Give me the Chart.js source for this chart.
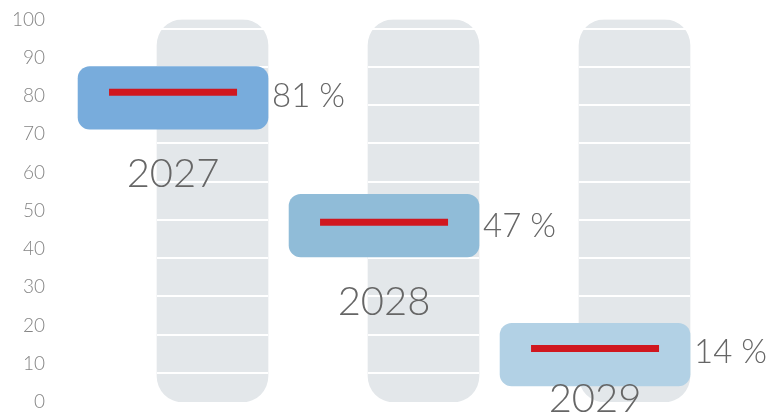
<!DOCTYPE html>
<html lang="en">
  <head>
    <meta charset="UTF-8" />
    <title>Forecast gauges</title>
    <style>
      html,
      body {
        margin: 0;
        padding: 0;
        background: #fff;
      }
      #wrap {
        width: 776px;
        height: 414px;
      }
    </style>
  </head>
  <body>
    <div id="wrap"><canvas id="myChart"></canvas></div>
    <script src="https://cdn.jsdelivr.net/npm/chart.js"></script>
    <script>
      // values
      const years = ["2027", "2028", "2029"];
      const values = [81, 47, 14];
      const boxLow = [71.3, 37.9, 4.2];
      const boxHigh = [87.7, 54.3, 20.6];
      const trackLow = [0, 0, 0];
      const trackHigh = [100, 100, 100];
      const separators = [7.6, 17.6, 27.6, 37.6, 47.6, 57.6, 67.6, 77.6, 87.6, 97.6];

      const boxColors = ["#78acdc", "#90bcd8", "#b2d1e5"];
      const labelFont = "Lato, 'Open Sans', sans-serif";

      const overlay = {
        id: "overlay",
        afterDatasetDraw(chart, args) {
          // white rungs across the grey tracks
          if (args.index !== 0) return;
          const y = chart.scales.y;
          const ctx = chart.ctx;
          ctx.save();
          ctx.strokeStyle = "#fff";
          ctx.lineWidth = 2;
          args.meta.data.forEach((bar) => {
            const half = bar.width / 2;
            separators.forEach((v) => {
              const py = Math.round(y.getPixelForValue(v));
              ctx.beginPath();
              ctx.moveTo(bar.x - half, py);
              ctx.lineTo(bar.x + half, py);
              ctx.stroke();
            });
          });
          ctx.restore();
        },
        afterDatasetsDraw(chart) {
          const ctx = chart.ctx;
          const boxes = chart.getDatasetMeta(1).data;
          const marks = chart.getDatasetMeta(2).data;
          ctx.save();
          ctx.fillStyle = "#666";
          ctx.textBaseline = "alphabetic";
          boxes.forEach((box, i) => {
            const right = box.x + box.width / 2;
            const bottom = Math.max(box.y, box.base);
            ctx.font = "300 33px " + labelFont;
            ctx.textAlign = "left";
            ctx.fillText(values[i] + " %", right + 4, marks[i].y + 14.5);
            ctx.font = "300 40px " + labelFont;
            ctx.textAlign = "center";
            ctx.fillText(years[i], box.x, Math.min(bottom + 58, chart.height - 2));
          });
          ctx.restore();
        },
      };

      const ctx = document.getElementById("myChart").getContext("2d");
      new Chart(ctx, {
        type: "bar",
        data: {
          labels: years,
          datasets: [
            {
              label: "track",
              data: trackLow.map((lo, i) => [lo, trackHigh[i]]),
              backgroundColor: "#e3e7ea",
              borderRadius: 26,
              borderSkipped: false,
              barThickness: 111,
              grouped: false,
              order: 3,
              xAxisID: "x",
            },
            {
              label: "range",
              data: years.map((_, i) => ({ x: i, y: [boxLow[i], boxHigh[i]] })),
              backgroundColor: boxColors,
              borderRadius: 12,
              borderSkipped: false,
              barThickness: 190,
              grouped: false,
              clip: false,
              order: 2,
              xAxisID: "xb",
            },
            {
              type: "scatter",
              label: "value",
              data: values.map((v, i) => ({ x: i, y: v })),
              pointStyle: "line",
              pointRadius: 64,
              pointHoverRadius: 64,
              borderWidth: 7,
              hoverBorderWidth: 7,
              borderColor: "#d0171f",
              backgroundColor: "#d0171f",
              clip: false,
              order: 1,
              xAxisID: "xb",
            },
          ],
        },
        options: {
          responsive: true,
          maintainAspectRatio: false,
          animation: false,
          layout: {
            autoPadding: false,
            padding: { top: 19.5, bottom: 12, right: 36, left: 0 },
          },
          plugins: {
            legend: { display: false },
            tooltip: { enabled: false },
          },
          scales: {
            x: {
              type: "category",
              display: false,
              offset: true,
            },
            xb: {
              type: "linear",
              display: false,
              offset: false,
              min: -0.313,
              max: 2.687,
            },
            y: {
              min: 0,
              max: 100,
              border: { display: false },
              grid: { display: false, drawTicks: false },
              afterFit(scale) {
                // fixed gutter; labels sit far left, so drop the padding fit() added
                scale.width = 107;
                scale.paddingTop = 0;
                scale.paddingBottom = 0;
              },
              ticks: {
                stepSize: 10,
                padding: 62,
                color: "#858585",
                font: { family: labelFont, size: 19, weight: 300 },
              },
            },
          },
        },
        plugins: [overlay],
      });
    </script>
  </body>
</html>
